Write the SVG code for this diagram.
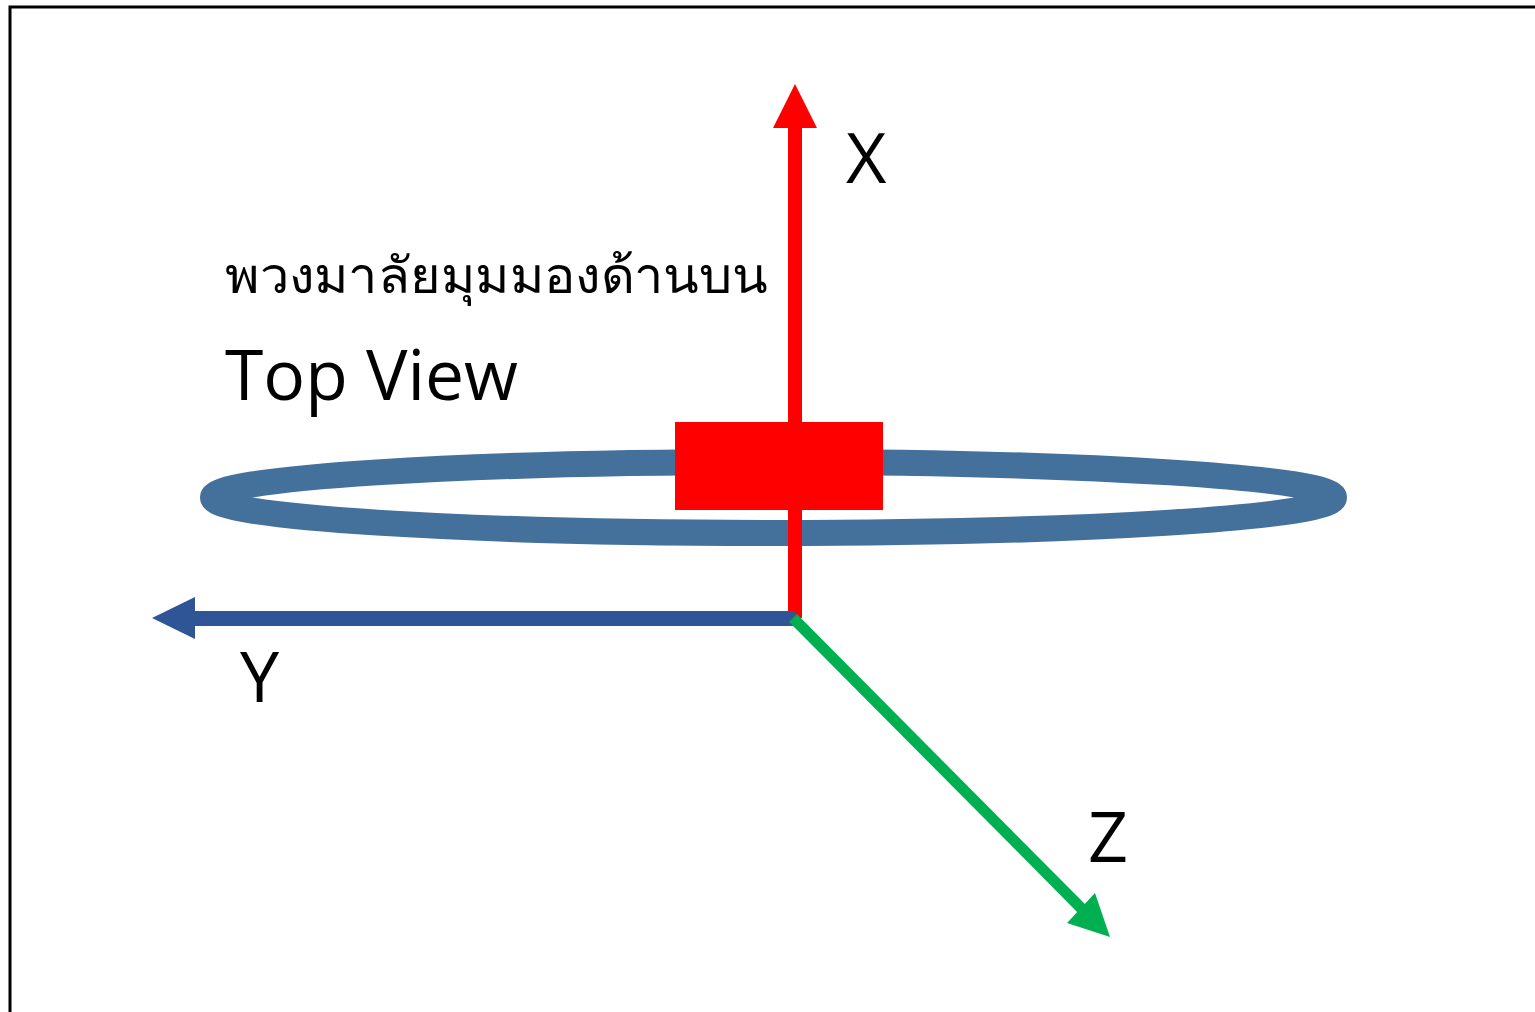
<svg xmlns="http://www.w3.org/2000/svg" width="1535" height="1012" viewBox="0 0 1535 1012">
<style>
.lbl{font-family:"Open Sans","Noto Sans","DejaVu Sans",sans-serif;fill:#000}
.ax{font-size:70px}
</style>
<rect x="0" y="0" width="1535" height="1012" fill="#fff"/>
<rect x="10" y="7" width="1540" height="1020" fill="none" stroke="#000" stroke-width="3"/>
<g id="wheel">
<ellipse cx="773.5" cy="497.5" rx="560.5" ry="35.5" fill="none" stroke="#44719c" stroke-width="26"/>
</g>
<g id="connectors">
<line x1="795" y1="618" x2="795" y2="125" stroke="#ff0000" stroke-width="14"/>
<polygon points="795,84 817,128 773,128" fill="#ff0000"/>
<line x1="795" y1="618.5" x2="192" y2="618.5" stroke="#2f5597" stroke-width="15"/>
<polygon points="152,618 195,597 195,639" fill="#2f5597"/>
<line x1="793" y1="618" x2="1082" y2="909" stroke="#00b050" stroke-width="11"/>
<polygon points="1110,937 1067,923 1095,893" fill="#00b050"/>
</g>
<g id="hub">
<rect x="675" y="422" width="208" height="88" fill="#ff0000"/>
</g>
<g id="labels">
<text class="lbl ax" x="846" y="183">X</text>
<text class="lbl ax" x="240" y="702">Y</text>
<text class="lbl ax" x="1088" y="862">Z</text>
<text class="lbl" x="225" y="293" font-size="50" textLength="543" lengthAdjust="spacingAndGlyphs">พวงมาลัยมุมมองด้านบน</text>
<text class="lbl" x="225" y="400" font-size="69" textLength="293" lengthAdjust="spacingAndGlyphs">Top View</text>
</g>
</svg>
